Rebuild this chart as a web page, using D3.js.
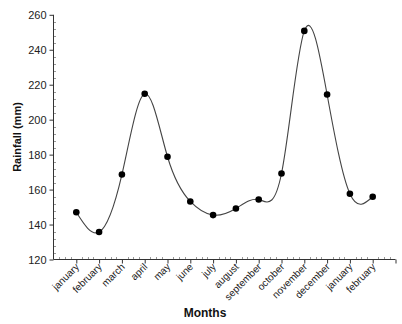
<!DOCTYPE html>
<html><head><meta charset="utf-8">
<script src="https://cdn.jsdelivr.net/npm/d3@7"></script>
<style>body{margin:0;background:#fff}svg{display:block}</style>
</head><body>
<script>
const months = ["january","february","march","april","may","june","july","august","september","october","november","december","january","february"];
const rainfall = [147, 135.7, 168.6, 214.8, 178.8, 153.2, 145.4, 149.2, 154.3, 169.2, 250.8, 214.4, 157.6, 155.9];
const yTicks = [120,140,160,180,200,220,240,260];

const W=402,H=324;
const svg=d3.select("body").append("svg").attr("width",W).attr("height",H);
const x=d3.scaleLinear().domain([-1,14]).range([53.5,395.5]);
const y=d3.scaleLinear().domain([120,260]).range([259.5,14.8]);
const font="Liberation Sans, Arial, sans-serif";

// minor ticks y (inside)
svg.append("g").selectAll("line").data(d3.range(120,261,4).filter(v=>v%20!==0)).join("line")
  .attr("x1",53.5).attr("x2",56).attr("y1",d=>Math.round(y(d))+0.5).attr("y2",d=>Math.round(y(d))+0.5)
  .attr("stroke","#999").attr("stroke-width",1);
// minor ticks x (inside)
const xm=[];for(let i=-1;i<14;i++){for(let k=1;k<4;k++)xm.push(i+k/4);}
svg.append("g").selectAll("line").data(xm).join("line")
  .attr("x1",d=>Math.round(x(d))+0.5).attr("x2",d=>Math.round(x(d))+0.5).attr("y1",259.5).attr("y2",257)
  .attr("stroke","#999").attr("stroke-width",1);

const yAxis=svg.append("g").attr("transform","translate(53.5,0)")
  .call(d3.axisLeft(y).tickValues(yTicks).tickSize(4).tickPadding(3).tickFormat(d3.format("d")));
yAxis.select(".domain").attr("d","M0,"+y(260)+"V"+y(120)).attr("stroke","#333");
yAxis.selectAll(".tick line").attr("stroke","#333");
yAxis.selectAll("text").attr("font-family",font).attr("font-size","11px").attr("fill","#222");

const xAxis=svg.append("g").attr("transform","translate(0,259.5)")
  .call(d3.axisBottom(x).tickValues(d3.range(0,15)).tickSize(4).tickFormat(d=>months[d]||""));
xAxis.select(".domain").attr("d","M"+x(-1)+",0H"+x(14)).attr("stroke","#333");
xAxis.selectAll(".tick line").attr("stroke","#333");
xAxis.selectAll("text").attr("font-family",font).attr("font-size","10px").attr("fill","#222")
  .attr("text-anchor","end").attr("dy",0).attr("y",0)
  .attr("transform","translate(3,8) rotate(-45)");

const line=d3.line().x((d,i)=>x(i)).y(d=>y(d)).curve(d3.curveNatural);
svg.append("path").datum(rainfall).attr("d",line).attr("fill","none").attr("stroke","#444").attr("stroke-width",1.1);
svg.append("g").selectAll("circle").data(rainfall).join("circle")
  .attr("cx",(d,i)=>x(i)).attr("cy",d=>y(d)).attr("r",3.3).attr("fill","#000");

svg.append("text").attr("x",205).attr("y",317).attr("text-anchor","middle")
  .attr("font-family",font).attr("font-weight","bold").attr("font-size","12px").attr("fill","#111").text("Months");
svg.append("text").attr("transform","translate(21,137) rotate(-90)").attr("text-anchor","middle")
  .attr("font-family",font).attr("font-weight","bold").attr("font-size","11px").attr("fill","#111").text("Rainfall (mm)");
</script>
</body></html>
